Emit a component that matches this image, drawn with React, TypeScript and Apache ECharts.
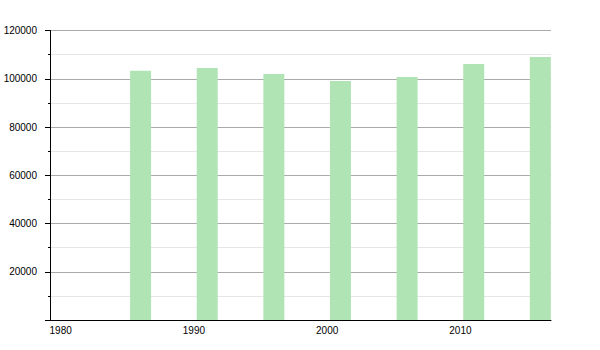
import React, { useEffect, useRef } from "react";
import * as echarts from "echarts";

const years = [1986, 1991, 1996, 2001, 2006, 2011, 2016];
const population = [103340, 104460, 101970, 99070, 100730, 106110, 109020];
const xTickLabels = [1980, 1990, 2000, 2010];

export default function App() {
  const ref = useRef<HTMLDivElement>(null);
  useEffect(() => {
    if (!ref.current) return;
    const chart = echarts.init(ref.current, null, { renderer: "svg" });
    chart.setOption({
      animation: false,
      grid: { left: 50, right: 49, top: 30.5, bottom: 30, containLabel: false },
      xAxis: {
        type: "value",
        min: 1979.2,
        max: 2016.8,
        axisLine: { show: true, lineStyle: { color: "#000", width: 1 } },
        axisTick: { show: false },
        splitLine: { show: false },
        axisLabel: {
          customValues: xTickLabels,
          color: "#000",
          fontSize: 10,
          fontFamily: "Liberation Sans, Arial, sans-serif",
          margin: 5,
          formatter: (v: number) => String(v),
        },
      },
      yAxis: {
        type: "value",
        min: 0,
        max: 120000,
        interval: 20000,
        axisLine: { show: true, lineStyle: { color: "#000", width: 1 } },
        axisTick: { show: true, length: 5, lineStyle: { color: "#000" } },
        minorTick: { show: true, splitNumber: 2, length: 2, lineStyle: { color: "#000" } },
        splitLine: { show: true, lineStyle: { color: "#aaaaaa", width: 1 } },
        minorSplitLine: { show: true, lineStyle: { color: "#e6e6e6", width: 1 } },
        axisLabel: {
          color: "#000",
          fontSize: 10,
          fontFamily: "Liberation Sans, Arial, sans-serif",
          margin: 13,
          formatter: (v: number) => (v === 0 ? "" : String(v)),
        },
      },
      series: [
        {
          type: "bar",
          data: years.map((y, i) => [y, population[i]]),
          barWidth: 21,
          itemStyle: { color: "#b1e4b5" },
        },
      ],
    });
    return () => chart.dispose();
  }, []);
  return <div ref={ref} style={{ width: 600, height: 350, position: "absolute", left: 0, top: 0 }} />;
}
